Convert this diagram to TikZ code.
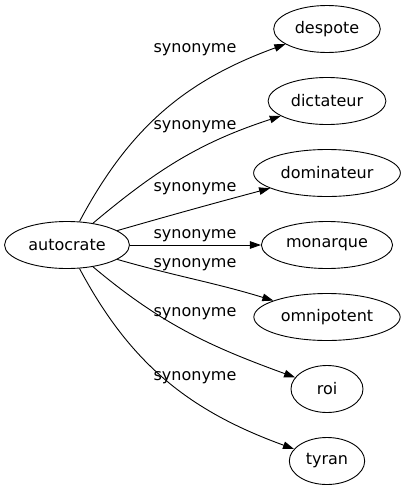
\documentclass[tikz,border=0pt]{standalone}
\usepackage{fontspec}
\setmainfont{DejaVu Sans}
\usetikzlibrary{positioning, shapes.geometric, arrows.meta}

\tikzset{
    word/.style={draw, ellipse, line width=0.9pt, inner xsep=5.5pt, inner ysep=2pt,
        minimum width=72pt, minimum height=47pt, font=\fontsize{16}{19}\selectfont},
    rel/.style={font=\fontsize{16}{19}\selectfont, inner sep=0pt, anchor=base},
    syn/.style={line width=0.9pt, -{Triangle[length=11pt, width=7.5pt]}}
}

\begin{document}
\begin{tikzpicture}[x=1pt, y=-1pt]
    \useasboundingbox (0,0) rectangle (406,491);

    % 語の描画
    \node[word] (autocrate) at (67,245) {autocrate};
    \node[word] (despote) at (327,29) {despote};
    \node[word] (dictateur) at (327,101) {dictateur};
    \node[word] (dominateur) at (327,173) {dominateur};
    \node[word] (monarque) at (327,245) {monarque};
    \node[word] (omnipotent) at (327,317) {omnipotent};
    \node[word] (roi) at (327,389) {roi};
    \node[word] (tyran) at (327,461) {tyran};

    % 矢印
    \draw[syn] (autocrate) to[out=62, in=200] (despote);
    \draw[syn] (autocrate) to[out=40, in=198] (dictateur);
    \draw[syn] (autocrate) to[out=16, in=195] (dominateur);
    \draw[syn] (autocrate) -- (monarque);
    \draw[syn] (autocrate) to[out=-16, in=163] (omnipotent);
    \draw[syn] (autocrate) to[out=-40, in=160] (roi);
    \draw[syn] (autocrate) to[out=-62, in=160] (tyran);

    % ラベル
    \node[rel] (l1) at (195,52) {synonyme};
    \node[rel] (l2) at (195,129) {synonyme};
    \node[rel] (l3) at (195,191) {synonyme};
    \node[rel] (l4) at (195,238) {synonyme};
    \node[rel] (l5) at (195,267) {synonyme};
    \node[rel] (l6) at (195,316) {synonyme};
    \node[rel] (l7) at (195,380) {synonyme};

\end{tikzpicture}
\end{document}
